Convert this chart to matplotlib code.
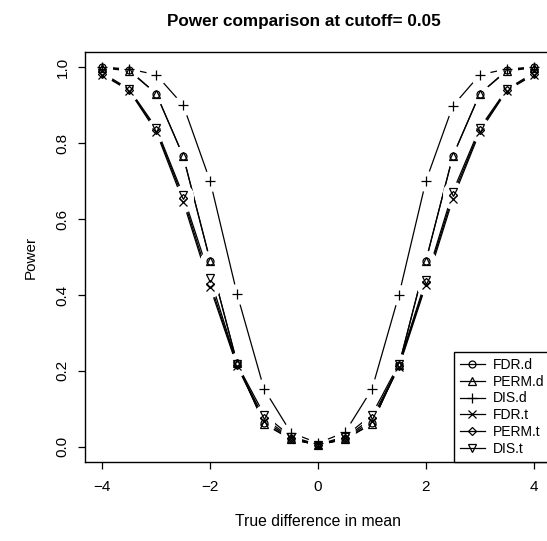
import numpy as np
import matplotlib
matplotlib.use("Agg")
from matplotlib import pyplot as plt
from matplotlib.lines import Line2D

# true difference in mean
diff = [-4, -3.5, -3, -2.5, -2, -1.5, -1, -0.5, 0, 0.5, 1, 1.5, 2, 2.5, 3, 3.5, 4]

fdr_d = [1.0, 0.992, 0.93, 0.766, 0.49, 0.22, 0.062, 0.02, 0.005, 0.02, 0.062, 0.215, 0.49, 0.766, 0.93, 0.992, 1.0]
perm_d = [0.998, 0.99, 0.93, 0.766, 0.49, 0.22, 0.06, 0.02, 0.005, 0.02, 0.06, 0.215, 0.49, 0.766, 0.93, 0.99, 0.998]
dis_d = [1.0, 0.995, 0.98, 0.9, 0.7, 0.402, 0.152, 0.037, 0.01, 0.038, 0.152, 0.4, 0.7, 0.898, 0.98, 0.995, 1.0]
fdr_t = [0.98, 0.938, 0.83, 0.646, 0.42, 0.212, 0.068, 0.022, 0.004, 0.022, 0.068, 0.21, 0.426, 0.653, 0.83, 0.938, 0.98]
perm_t = [0.982, 0.94, 0.835, 0.655, 0.43, 0.215, 0.075, 0.024, 0.005, 0.024, 0.075, 0.213, 0.433, 0.662, 0.835, 0.94, 0.982]
dis_t = [0.985, 0.942, 0.84, 0.663, 0.445, 0.218, 0.085, 0.027, 0.006, 0.027, 0.085, 0.218, 0.44, 0.672, 0.84, 0.942, 0.985]

names = ["FDR.d", "PERM.d", "DIS.d", "FDR.t", "PERM.t", "DIS.t"]
series = [fdr_d, perm_d, dis_d, fdr_t, perm_t, dis_t]
markers = ["o", "^", "+", "x", "D", "v"]
msizes = [5, 5.5, 7.5, 5.5, 4, 5.5]

plt.rcParams['font.family'] = ['Liberation Sans', 'DejaVu Sans']

fig = plt.figure(figsize=(5.47, 5.41), dpi=100)
ax = fig.add_axes([0.1554, 0.146, 0.852, 0.758])

x = np.array(diff)
for vals in series:
    ax.plot(x, vals, color='black', lw=0.9, zorder=2)
# gaps around the points, as in R type="b"
for vals in series:
    ax.plot(x, vals, ls='none', marker='o', ms=15, mfc='white', mec='none', zorder=3)
for vals, m, s in zip(series, markers, msizes):
    ax.plot(x, vals, ls='none', marker=m, ms=s, mfc='none', mec='black', mew=0.9, zorder=4)

ax.set_xlim(-4.32, 4.32)
ax.set_ylim(-0.04, 1.04)
ax.set_xticks([-4, -2, 0, 2, 4])
ax.set_xticklabels(["\u22124", "\u22122", "0", "2", "4"])
ax.set_yticks([0, 0.2, 0.4, 0.6, 0.8, 1.0])
ax.set_yticklabels(["0.0", "0.2", "0.4", "0.6", "0.8", "1.0"], rotation=90, va='center')
ax.tick_params(direction='out', length=5, width=0.9, labelsize=11, pad=8, colors='black')
ax.tick_params(axis='y', pad=6)
for sp in ax.spines.values():
    sp.set_linewidth(1.0)

ax.set_xlabel("True difference in mean", fontsize=11.3, labelpad=14)
ax.set_ylabel("Power", fontsize=11, labelpad=13)
fig.text(0.555, 0.96, "Power comparison at cutoff= 0.05", ha='center', va='center',
         fontsize=12.3, fontweight='bold')

handles = [Line2D([0], [0], color='black', lw=0.9, marker=m, ms=s, mfc='none', mec='black', mew=0.9)
           for m, s in zip(markers, msizes)]
leg = ax.legend(handles, names, loc='lower right', borderaxespad=0, fontsize=10,
                fancybox=False, framealpha=1, edgecolor='black', handlelength=1.8,
                handletextpad=0.6, labelspacing=0.2, borderpad=0.45)
leg.get_frame().set_linewidth(1.0)

fig.savefig("out.png", dpi=100)
